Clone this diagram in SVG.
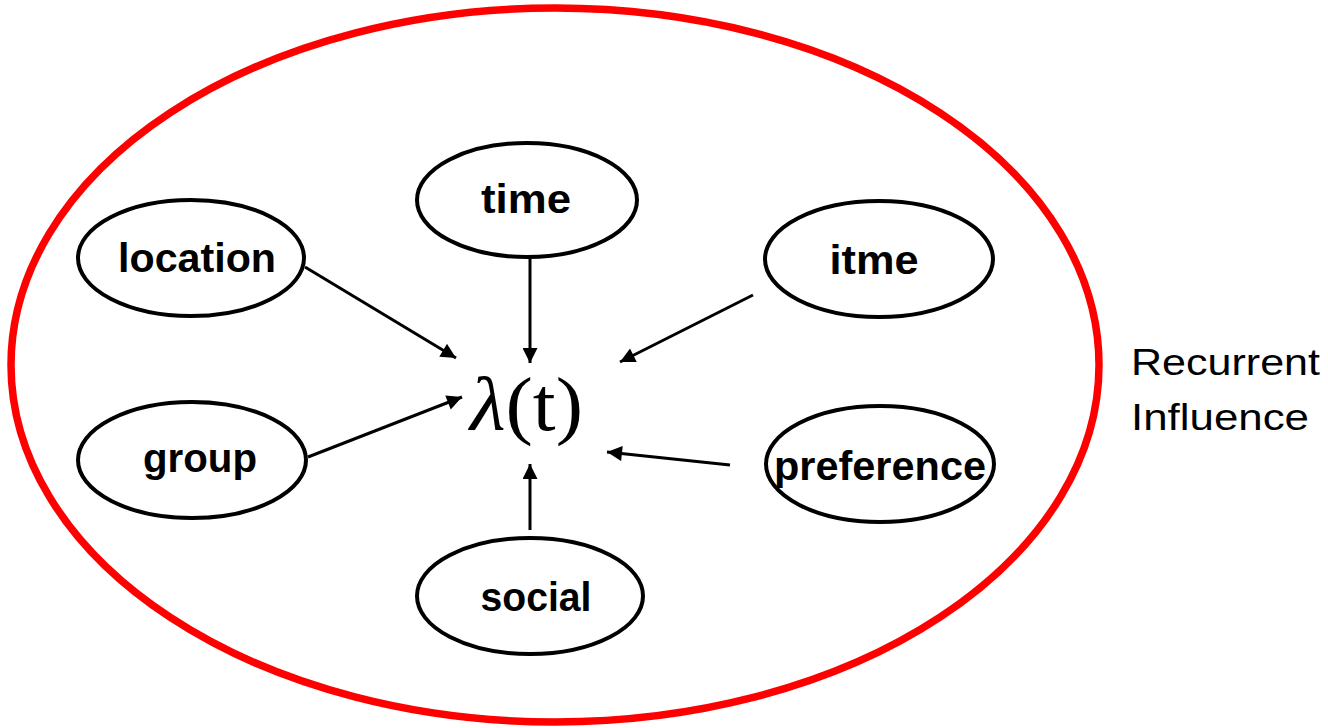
<svg xmlns="http://www.w3.org/2000/svg" width="1328" height="728" viewBox="0 0 1328 728">
<defs>
<marker id="ah" viewBox="0 0 10 10" refX="10" refY="5" markerWidth="5.5" markerHeight="5" orient="auto" markerUnits="strokeWidth">
<path d="M0,0 L10,5 L0,10 z" fill="#000"/>
</marker>
<style>
.n{fill:#fff;stroke:#000;stroke-width:4}
.t{font-family:"Liberation Sans",Arial,sans-serif;font-weight:bold;font-size:40px;fill:#000;text-anchor:middle}
.c{stroke:#000;stroke-width:3;fill:none;marker-end:url(#ah)}
</style>
</defs>
<rect width="1328" height="728" fill="#fff"/>
<ellipse cx="555" cy="365" rx="544" ry="357" fill="none" stroke="#ff0000" stroke-width="7.5"/>
<g id="connectors">
<line class="c" x1="305" y1="267" x2="456" y2="358"/>
<line class="c" x1="530" y1="258" x2="530" y2="363"/>
<line class="c" x1="753" y1="295" x2="620" y2="362"/>
<line class="c" x1="308" y1="457" x2="462" y2="397"/>
<line class="c" x1="730" y1="465" x2="607" y2="452"/>
<line class="c" x1="530" y1="530" x2="530" y2="464"/>
</g>
<g id="time"><ellipse class="n" cx="527" cy="200" rx="110" ry="57"/><text class="t" x="526" y="213" textLength="90" lengthAdjust="spacingAndGlyphs">time</text></g>
<g id="location"><ellipse class="n" cx="191" cy="258" rx="113" ry="58"/><text class="t" x="197" y="272" textLength="158" lengthAdjust="spacingAndGlyphs">location</text></g>
<g id="itme"><ellipse class="n" cx="879" cy="259" rx="114" ry="58"/><text class="t" x="874" y="274" textLength="89" lengthAdjust="spacingAndGlyphs">itme</text></g>
<g id="group"><ellipse class="n" cx="192" cy="460" rx="114" ry="58"/><text class="t" x="200" y="472" textLength="114" lengthAdjust="spacingAndGlyphs">group</text></g>
<g id="preference"><ellipse class="n" cx="880" cy="464" rx="114" ry="58"/><text class="t" x="880" y="480" textLength="212" lengthAdjust="spacingAndGlyphs">preference</text></g>
<g id="social"><ellipse class="n" cx="530" cy="596" rx="113" ry="58"/><text class="t" x="536" y="611" textLength="111" lengthAdjust="spacingAndGlyphs">social</text></g>
<g id="lambda"><text x="470" y="430" font-family="Liberation Serif,'Times New Roman',serif" font-size="76" fill="#000" textLength="113" lengthAdjust="spacingAndGlyphs"><tspan font-style="italic">λ</tspan>(t)</text></g>
<g id="label"><text font-family="Liberation Sans,Arial,sans-serif" font-size="37" fill="#000"><tspan x="1131" y="375" textLength="189" lengthAdjust="spacingAndGlyphs">Recurrent</tspan><tspan x="1131" y="430" textLength="178" lengthAdjust="spacingAndGlyphs">Influence</tspan></text></g>
</svg>
